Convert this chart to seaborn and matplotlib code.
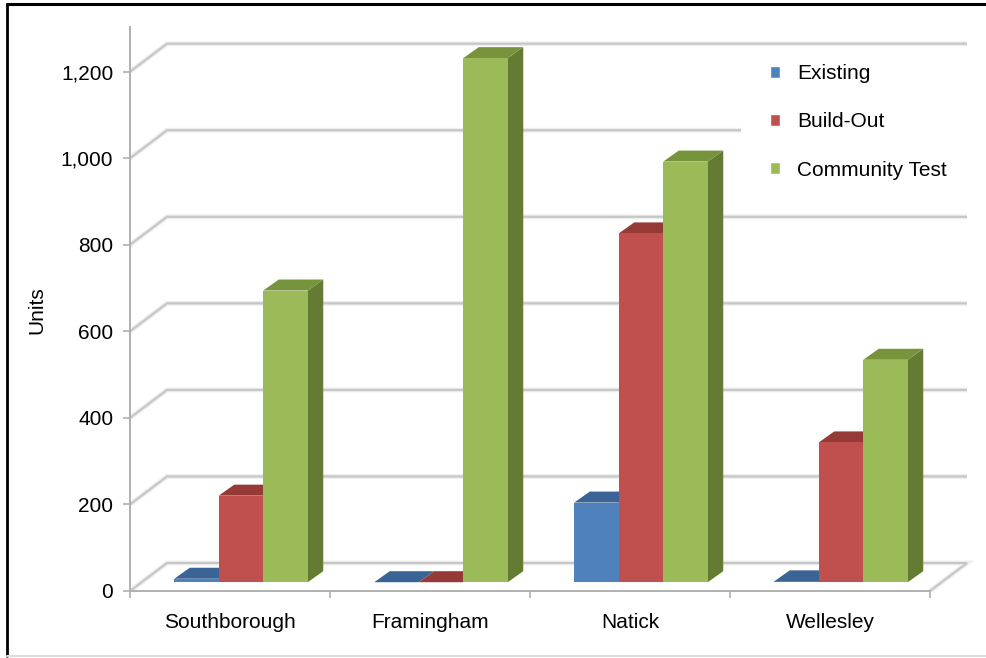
import matplotlib
matplotlib.use("Agg")
import matplotlib.pyplot as plt
from matplotlib.patches import Polygon, Rectangle
from matplotlib.lines import Line2D
import numpy as np
import pandas as pd
import seaborn as sns

# ---- data -------------------------------------------------------------
towns = ["Southborough", "Framingham", "Natick", "Wellesley"]
series = ["Existing", "Build-Out", "Community Test"]
existing = [8, 0, 184, 2]
build_out = [200, 0, 806, 323]
community_test = [674, 1211, 972, 514]
y_ticks = [0, 200, 400, 600, 800, 1000, 1200]
y_tick_labels = ["0", "200", "400", "600", "800", "1,000", "1,200"]

# ---- styling ----------------------------------------------------------
front_colors = ["#4F81BD", "#C0504D", "#9BBB59"]
top_colors = ["#3B6496", "#953A37", "#77933C"]
side_colors = ["#30537E", "#7E2F2D", "#647B34"]
axis_color = "#b0b0b0"
grid_color = "#c6c6c6"
grid_halo = "#ececec"
FS = 15

df = pd.DataFrame({
    "Town": towns * 3,
    "Series": [s for s in series for _ in towns],
    "Units": existing + build_out + community_test,
})

sns.set_theme(style="white")
plt.rcParams["font.family"] = ["Liberation Sans", "DejaVu Sans"]

W, H = 986, 658
fig = plt.figure(figsize=(W / 100, H / 100), dpi=100)
fig.patch.set_facecolor("white")

# front plane of the 3-D box, in pixels
x0, x1, y_base, y_top = 130, 930, 591, 27
ax = fig.add_axes([x0 / W, (H - y_base) / H, (x1 - x0) / W, (y_base - y_top) / H])
ax.set_facecolor("none")

px_per_unit = (591 - 71.7) / 1200
px_per_cat = (x1 - x0) / 4
ymax = (y_base - y_top) / px_per_unit


def dx(px):
    return px / px_per_cat


def dy(px):
    return px / px_per_unit


sns.barplot(data=df, x="Town", y="Units", hue="Series", hue_order=series,
            palette=front_colors, width=0.6675, gap=0, saturation=1,
            errorbar=None, ax=ax)
ax.set_xlim(-0.5, 3.5)
ax.set_ylim(0, ymax)

# oblique depth offsets
back_dx, back_dy = dx(37), dy(28)
front_dx, front_dy = dx(11), dy(8.8)
depth_dx, depth_dy = dx(15.5), dy(11)

# floor and back-wall gridlines
floor = Polygon([(-0.5, 0), (3.5, 0), (3.5 + back_dx, back_dy), (-0.5 + back_dx, back_dy)],
                closed=True, fc="white", ec="none", zorder=0.5, clip_on=False)
ax.add_patch(floor)
for v in y_ticks:
    xs = [-0.5, -0.5 + back_dx, 3.5 + back_dx]
    ys = [v, v + back_dy, v + back_dy]
    if v == 0:
        xs = xs + [3.5]
        ys = ys + [0]
    ax.plot(xs, ys, color=grid_halo, lw=3.4, zorder=0.8, clip_on=False,
            solid_capstyle="butt", solid_joinstyle="miter")
    ax.plot(xs, ys, color=grid_color, lw=1.5, zorder=1, clip_on=False,
            solid_capstyle="butt", solid_joinstyle="miter")

# turn flat bars into prisms: front face shifted into depth, plus top and side
for cont in ax.containers:
    lab = cont.get_label()
    h = series.index(lab) if lab in series else ax.containers.index(cont)
    for bar in cont:
        w = bar.get_width()
        hgt = bar.get_height()
        x = bar.get_x() + front_dx
        bar.set_x(x)
        bar.set_y(front_dy)
        bar.set_edgecolor("none")
        bar.set_linewidth(0)
        bar.set_zorder(3.5 + h)
        top = front_dy + hgt
        side = Polygon([(x + w, front_dy), (x + w + depth_dx, front_dy + depth_dy),
                        (x + w + depth_dx, top + depth_dy), (x + w, top)],
                       closed=True, fc=side_colors[h], ec="none", zorder=3 + h)
        lid = Polygon([(x, top), (x + w, top), (x + w + depth_dx, top + depth_dy),
                       (x + depth_dx, top + depth_dy)],
                      closed=True, fc=top_colors[h], ec="none", zorder=3 + h)
        ax.add_patch(side)
        ax.add_patch(lid)

# axes, ticks and labels
for s in ["top", "right"]:
    ax.spines[s].set_visible(False)
for s in ["left", "bottom"]:
    ax.spines[s].set_color(axis_color)
    ax.spines[s].set_linewidth(1.4)
    ax.spines[s].set_zorder(2)

ax.set_yticks(y_ticks, y_tick_labels)
ax.set_xticks(range(len(towns)), towns)
ax.set_xticks(np.arange(-0.5, len(towns), 1), minor=True)
ax.tick_params(axis="x", which="major", length=0, pad=15.5, labelsize=FS, bottom=True)
ax.tick_params(axis="x", which="minor", length=5, width=1.2, color=axis_color,
               direction="out", bottom=True)
ax.tick_params(axis="y", length=5, width=1.2, color=axis_color, direction="out",
               pad=7, labelsize=FS, left=True)
for t in ax.get_xticklabels() + ax.get_yticklabels():
    t.set_color("black")

ax.set_xlabel("")
ax.set_ylabel("Units", fontsize=FS, color="black")
ax.yaxis.set_label_coords((46 - x0) / (x1 - x0), (y_base - 310) / (y_base - y_top))

# legend on a white panel
handles, labels = ax.get_legend_handles_labels()
if ax.get_legend() is not None:
    ax.get_legend().remove()
panel = Rectangle((741 / W, 1 - 200 / H), (975 - 741) / W, (200 - 50) / H,
                  transform=fig.transFigure, fc="white", ec="none", zorder=2.5,
                  clip_on=False)
ax.add_patch(panel)
leg = ax.legend(handles, labels, loc="upper left",
                bbox_to_anchor=(770 / W, 1 - 64 / H), bbox_transform=fig.transFigure,
                frameon=False, fontsize=FS, handlelength=0.5, handleheight=0.5,
                handletextpad=0.8, labelspacing=1.41, borderpad=0, borderaxespad=0)
leg.set_zorder(10)
for txt in leg.get_texts():
    txt.set_color("black")

# outer chart border
fig.add_artist(Line2D([7 / W, 7 / W], [1 - 4 / H, 1 - 656 / H], transform=fig.transFigure,
                      color="black", lw=2))
fig.add_artist(Line2D([7 / W, 1], [1 - 4 / H, 1 - 4 / H], transform=fig.transFigure,
                      color="black", lw=2.2))
fig.add_artist(Line2D([7 / W, 1], [1 - 656 / H, 1 - 656 / H], transform=fig.transFigure,
                      color="#dddddd", lw=1.5))

fig.savefig("out.png", dpi=100, facecolor="white")
